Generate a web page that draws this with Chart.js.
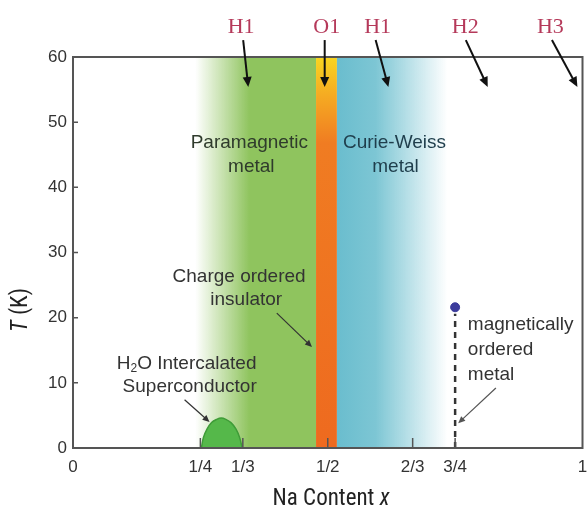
<!DOCTYPE html>
<html>
<head>
<meta charset="utf-8">
<script src="https://cdn.jsdelivr.net/npm/chart.js@4.4.1/dist/chart.umd.min.js"></script>
<style>
    html, body { margin: 0; padding: 0; background: #fff; }
</style>
</head>
<body>
<canvas id="myChart" width="588" height="516"></canvas>
<script>
// axis ticks
const xTicks = [0, 1/4, 1/3, 1/2, 2/3, 3/4, 1];
const xTickLabels = ['0', '1/4', '1/3', '1/2', '2/3', '3/4', '1'];

// superconducting dome (H2O intercalated)
const domeX = [0.252, 0.256, 0.263, 0.272, 0.282, 0.291, 0.300, 0.310, 0.320, 0.327, 0.332];
const domeT = [0, 1.6, 2.9, 3.9, 4.4, 4.6, 4.4, 3.9, 2.9, 1.6, 0];

// magnetic ordering at x = 3/4
const magX = [0.75, 0.75];
const magT = [0, 20.6];
const magPointX = [0.75];
const magPointT = [21.6];

// phase regions along x
const bandStart = [0.240, 0.477, 0.518];
const bandEnd = [0.477, 0.518, 0.735];

// crystal structure labels above the plot
const structLabels = ['H1', 'O1', 'H1', 'H2', 'H3'];
const structX = [0.330, 0.498, 0.598, 0.770, 0.937];
const arrowFromX = [0.334, 0.494, 0.594, 0.771, 0.940];
const arrowToX = [0.344, 0.494, 0.619, 0.814, 0.990];

const textFont = "19px 'Liberation Sans', Arial, sans-serif";
const titleFont = "'Liberation Sans Narrow', 'Arial Narrow', 'Roboto Condensed', Roboto, sans-serif";

function drawArrow(ctx, x1, y1, x2, y2, color, width, head) {
    const a = Math.atan2(y2 - y1, x2 - x1);
    ctx.save();
    ctx.strokeStyle = color;
    ctx.fillStyle = color;
    ctx.lineWidth = width;
    ctx.beginPath();
    ctx.moveTo(x1, y1);
    ctx.lineTo(x2 - Math.cos(a) * head * 0.8, y2 - Math.sin(a) * head * 0.8);
    ctx.stroke();
    ctx.beginPath();
    ctx.moveTo(x2, y2);
    ctx.lineTo(x2 - head * Math.cos(a) + head * 0.45 * Math.sin(a), y2 - head * Math.sin(a) - head * 0.45 * Math.cos(a));
    ctx.lineTo(x2 - head * Math.cos(a) - head * 0.45 * Math.sin(a), y2 - head * Math.sin(a) + head * 0.45 * Math.cos(a));
    ctx.closePath();
    ctx.fill();
    ctx.restore();
}

const phasePlugin = {
    id: 'phase',
    beforeDatasetsDraw(chart) {
        const {ctx, chartArea: a, scales: {x, y}} = chart;
        ctx.save();
        ctx.beginPath();
        ctx.rect(a.left, a.top, a.right - a.left, a.bottom - a.top);
        ctx.clip();

        // paramagnetic metal (green, fading in from the left)
        let x0 = x.getPixelForValue(bandStart[0]), x1 = x.getPixelForValue(bandEnd[0]);
        let g = ctx.createLinearGradient(x0, 0, x1, 0);
        g.addColorStop(0, 'rgba(143,196,94,0)');
        g.addColorStop(0.45, 'rgba(143,196,94,1)');
        g.addColorStop(1, 'rgba(143,196,94,1)');
        ctx.fillStyle = g;
        ctx.fillRect(x0, a.top, x1 - x0, a.bottom - a.top);

        // charge ordered insulator (yellow -> orange)
        x0 = x.getPixelForValue(bandStart[1]); x1 = x.getPixelForValue(bandEnd[1]);
        g = ctx.createLinearGradient(0, a.top, 0, a.bottom);
        g.addColorStop(0, '#f8d520');
        g.addColorStop(0.1, '#f5aa22');
        g.addColorStop(0.22, '#f07c22');
        g.addColorStop(1, '#ee6a1f');
        ctx.fillStyle = g;
        ctx.fillRect(x0, a.top, x1 - x0, a.bottom - a.top);

        // Curie-Weiss metal (blue fading to white)
        x0 = x.getPixelForValue(bandStart[2]); x1 = x.getPixelForValue(bandEnd[2]);
        g = ctx.createLinearGradient(x0, 0, x1, 0);
        g.addColorStop(0, 'rgba(106,189,206,1)');
        g.addColorStop(0.35, 'rgba(125,198,212,1)');
        g.addColorStop(1, 'rgba(125,198,212,0)');
        ctx.fillStyle = g;
        ctx.fillRect(x0, a.top, x1 - x0, a.bottom - a.top);
        ctx.restore();
    },
    afterDraw(chart) {
        const {ctx, chartArea: a, scales: {x, y}} = chart;
        const px = v => x.getPixelForValue(v);
        const py = v => y.getPixelForValue(v);

        ctx.save();
        // frame
        ctx.strokeStyle = '#555';
        ctx.lineWidth = 2;
        ctx.strokeRect(a.left, a.top, a.right - a.left, a.bottom - a.top);

        // inward ticks
        ctx.lineWidth = 1.5;
        ctx.beginPath();
        for (let t = 10; t < 60; t += 10) {
            ctx.moveTo(a.left, py(t));
            ctx.lineTo(a.left + 5, py(t));
        }
        xTicks.slice(1, -1).forEach(v => {
            ctx.moveTo(px(v), a.bottom);
            ctx.lineTo(px(v), a.bottom - 10);
        });
        ctx.stroke();

        // structure labels and arrows
        ctx.font = "22px 'Liberation Serif', 'DejaVu Serif', serif";
        ctx.fillStyle = '#b5395a';
        ctx.textAlign = 'center';
        ctx.textBaseline = 'middle';
        structLabels.forEach((s, i) => {
            ctx.fillText(s, px(structX[i]), py(64.5));
            drawArrow(ctx, px(arrowFromX[i]), py(62.6), px(arrowToX[i]), py(55.4), '#111', 2, 10);
        });

        // region text
        ctx.font = textFont;
        ctx.fillStyle = '#2f3b2c';
        ctx.fillText('Paramagnetic', px(0.346), py(46.8));
        ctx.fillText('metal', px(0.350), py(43.1));
        ctx.fillStyle = '#1f3e4c';
        ctx.fillText('Curie-Weiss', px(0.631), py(46.8));
        ctx.fillText('metal', px(0.633), py(43.1));
        ctx.fillStyle = '#333';
        ctx.fillText('Charge ordered', px(0.326), py(26.2));
        ctx.fillText('insulator', px(0.340), py(22.7));
        drawArrow(ctx, px(0.400), py(20.7), px(0.469), py(15.5), '#333', 1.2, 7);

        // H2O Intercalated with subscript
        const parts = ['H', '2', 'O Intercalated'];
        const wH = ctx.measureText(parts[0]).width;
        const wO = ctx.measureText(parts[2]).width;
        ctx.font = "12px 'Liberation Sans', Arial, sans-serif";
        const w2 = ctx.measureText(parts[1]).width;
        let sx = px(0.223) - (wH + w2 + wO) / 2;
        ctx.textAlign = 'left';
        ctx.font = textFont;
        ctx.fillText(parts[0], sx, py(13.0));
        ctx.font = "12px 'Liberation Sans', Arial, sans-serif";
        ctx.fillText(parts[1], sx + wH, py(13.0) + 5);
        ctx.font = textFont;
        ctx.fillText(parts[2], sx + wH + w2, py(13.0));
        ctx.textAlign = 'center';
        ctx.fillText('Superconductor', px(0.229), py(9.4));
        drawArrow(ctx, px(0.219), py(7.4), px(0.268), py(4.0), '#333', 1.2, 7);

        ctx.textAlign = 'left';
        ctx.fillText('magnetically', px(0.775), py(18.9));
        ctx.fillText('ordered', px(0.775), py(15.0));
        ctx.fillText('metal', px(0.775), py(11.2));
        drawArrow(ctx, px(0.830), py(9.2), px(0.756), py(3.8), '#555', 1.2, 7);

        // axis titles
        ctx.fillStyle = '#222';
        ctx.textBaseline = 'middle';
        ctx.font = '23px ' + titleFont;
        const t1 = 'Na Content ';
        const w1 = ctx.measureText(t1).width;
        ctx.font = 'italic 23px ' + titleFont;
        const wx = ctx.measureText('x').width;
        let tx = 331 - (w1 + wx) / 2;
        ctx.font = '23px ' + titleFont;
        ctx.fillText(t1, tx, 499);
        ctx.font = 'italic 23px ' + titleFont;
        ctx.fillText('x', tx + w1, 499);

        ctx.translate(21, 310);
        ctx.rotate(-Math.PI / 2);
        ctx.font = 'italic 23px ' + titleFont;
        const wT = ctx.measureText('T').width;
        ctx.font = '23px ' + titleFont;
        const wK = ctx.measureText(' (K)').width;
        tx = -(wT + wK) / 2;
        ctx.font = 'italic 23px ' + titleFont;
        ctx.fillText('T', tx, 0);
        ctx.font = '23px ' + titleFont;
        ctx.fillText(' (K)', tx + wT, 0);
        ctx.restore();
    }
};

const data = {
    datasets: [{
        label: 'dome',
        data: domeX.map((v, i) => ({x: v, y: domeT[i]})),
        borderColor: '#3f9c38',
        backgroundColor: '#55b84a',
        borderWidth: 1.5,
        fill: 'origin',
        tension: 0.4,
        pointRadius: 0,
    }, {
        label: 'magnetic',
        data: magX.map((v, i) => ({x: v, y: magT[i]})),
        borderColor: '#333',
        borderWidth: 2.5,
        borderDash: [6, 5],
        pointRadius: 0,
        fill: false,
    }, {
        label: 'onset',
        data: magPointX.map((v, i) => ({x: v, y: magPointT[i]})),
        showLine: false,
        pointRadius: 4.5,
        pointBackgroundColor: '#3c3c9c',
        pointBorderColor: '#3c3c9c',
    }],
};

const config = {
    type: 'line',
    data: data,
    options: {
        responsive: false,
        animation: false,
        layout: {
            padding: {top: 57, right: 0, left: 0, bottom: 0}
        },
        plugins: {
            legend: {display: false},
            tooltip: {enabled: false},
        },
        scales: {
            x: {
                type: 'linear',
                min: 0,
                max: 1,
                afterBuildTicks: axis => {
                    axis.ticks = xTicks.map(v => ({value: v}));
                },
                afterFit: scale => {
                    scale.height = 68;
                    scale.paddingLeft = 0;
                    scale.paddingRight = 0;
                },
                grid: {display: false, drawTicks: false},
                border: {display: false},
                ticks: {
                    autoSkip: false,
                    maxRotation: 0,
                    padding: 9,
                    color: '#333',
                    font: {size: 17, family: "'Liberation Sans', Arial, sans-serif"},
                    callback: (v, i) => xTickLabels[i],
                },
            },
            y: {
                min: 0,
                max: 60,
                afterFit: scale => {
                    scale.width = 73;
                    scale.paddingTop = 0;
                    scale.paddingBottom = 0;
                },
                grid: {display: false, drawTicks: false},
                border: {display: false},
                ticks: {
                    stepSize: 10,
                    padding: 6,
                    color: '#333',
                    font: {size: 17, family: "'Liberation Sans', Arial, sans-serif"},
                },
            },
        },
    },
    plugins: [phasePlugin],
};

var myChart = new Chart(
    document.getElementById('myChart'),
    config
);
</script>
</body>
</html>
